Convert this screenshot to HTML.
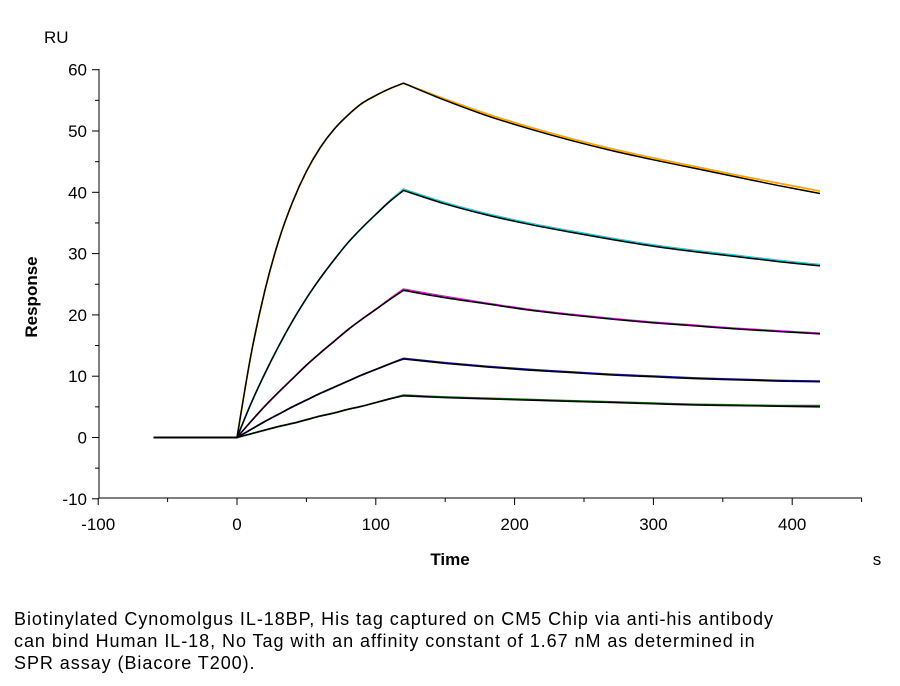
<!DOCTYPE html>
<html><head><meta charset="utf-8"><style>
body{margin:0;background:#fff;width:900px;height:686px;overflow:hidden;font-family:"Liberation Sans",sans-serif}
svg{position:absolute;left:0;top:0}
.cap{position:absolute;left:14px;top:608px;font-size:18px;letter-spacing:0.95px;line-height:22px;color:#000}
</style></head><body>
<svg id="chart" width="900" height="600"></svg>
<div class="cap">Biotinylated Cynomolgus IL-18BP, His tag captured on CM5 Chip via anti-his antibody<br>can bind Human IL-18, No Tag with an affinity constant of 1.67 nM as determined in<br>SPR assay (Biacore T200).</div>
<script>
const times=[0,10,20,30,40,50,60,70,80,90,100,110,120,150,180,210,240,270,300,330,360,390,420];
const fitTop=[0,13.4,23.9,32.1,38.4,43.4,47.3,50.3,52.6,54.5,55.8,56.9,57.8,55,52.5,50.4,48.5,46.8,45.3,43.9,42.5,41.1,39.8];
const dataTop=[0,13.4,23.9,32.1,38.4,43.4,47.3,50.3,52.6,54.5,55.8,56.9,57.8,55.2,52.8,50.7,48.8,47.1,45.6,44.2,42.8,41.5,40.2];
const fitC=[0,5.5,10.4,14.9,19.0,22.7,26.0,29.0,31.8,34.2,36.4,38.5,40.3,38.1,36.3,34.8,33.5,32.3,31.2,30.3,29.5,28.7,28.0];
const dataC=[0,5.5,10.4,14.9,19.0,22.7,26.0,29.0,31.8,34.2,36.4,38.6,40.5,38.3,36.5,35.0,33.7,32.5,31.4,30.5,29.7,28.9,28.2];
const fitM=[0,2.6,5.1,7.4,9.6,11.8,13.8,15.7,17.6,19.3,20.9,22.5,24,22.8,21.8,20.8,20,19.3,18.7,18.2,17.7,17.3,16.9];
const dataM=[0,2.6,5.1,7.4,9.6,11.8,13.8,15.7,17.6,19.3,20.9,22.6,24.2,23.0,21.9,20.9,20.1,19.4,18.8,18.3,17.8,17.4,17.0];
const fitB=[0,1.3,2.6,3.8,5.0,6.1,7.2,8.2,9.2,10.2,11.1,12.0,12.8,12.1,11.5,11,10.6,10.2,9.9,9.6,9.4,9.2,9.1];
const dataB=[0,1.3,2.6,3.8,5.0,6.1,7.2,8.2,9.2,10.2,11.1,12.0,12.9,12.2,11.6,11.1,10.7,10.3,10.0,9.7,9.5,9.3,9.2];
const fitG=[0,0.6,1.2,1.8,2.3,2.9,3.5,4.0,4.6,5.1,5.7,6.3,6.8,6.5,6.3,6.1,5.9,5.7,5.5,5.3,5.2,5.1,5.0];
const dataG=[0,0.6,1.2,1.8,2.3,2.9,3.5,4.0,4.6,5.1,5.7,6.3,6.9,6.6,6.4,6.2,6.0,5.8,5.6,5.4,5.3,5.2,5.2];
const xTicks=[-100,0,100,200,300,400];
const yTicks=[-10,0,10,20,30,40,50,60];
const NS="http://www.w3.org/2000/svg";
const svg=document.getElementById('chart');
const X=t=>237+(t)*1.388;
const Y=v=>437.5-v*6.13;
function mk(tag,attrs,parent){const e=document.createElementNS(NS,tag);for(const k in attrs)e.setAttribute(k,attrs[k]);(parent||svg).appendChild(e);return e;}
let e=mk('line',{x1:99,y1:69,x2:99,y2:498,stroke:'#000','stroke-width':1});


e=mk('line',{x1:99,y1:498,x2:862,y2:498,stroke:'#000','stroke-width':1});


for(let v=-10;v<=60;v+=5){const maj=v%10===0;mk('line',{x1:maj?92:95,x2:99,y1:Y(v),y2:Y(v),stroke:'#000'});}
for(let t=-100;t<=450;t+=50){const maj=t%100===0;mk('line',{x1:X(t),x2:X(t),y1:498,y2:maj?505:502,stroke:'#000'});}
yTicks.forEach(v=>{const t=mk('text',{x:87,y:Y(v)+6,'text-anchor':'end','font-size':17});t.textContent=v;

});
xTicks.forEach(v=>{const t=mk('text',{x:X(v),y:530,'text-anchor':'middle','font-size':17});t.textContent=v;

});
function txt(s,a,name){const t=mk('text',a);t.textContent=s;return t;}
txt('RU',{x:44,y:43,'font-size':17},'y-unit');
txt('Response',{x:0,y:0,'font-size':17,'font-weight':'bold','text-anchor':'middle',transform:'translate(37,297) rotate(-90)'},'y-axis-title');
txt('Time',{x:450,y:565,'font-size':17,'font-weight':'bold','text-anchor':'middle'},'x-axis-title');
txt('s',{x:877,y:565,'font-size':17,'text-anchor':'middle'},'x-unit');
const SPLIT=times.indexOf(120);
function path(vals){
  const p=times.map((t,i)=>[X(t),Y(vals[i])]);
  let d=`M${X(-60)},${Y(0)}L${p[0][0]},${p[0][1]}`;
  const seg=(a,b)=>{for(let i=a;i<b;i++){const p0=p[Math.max(a,i-1)],p1=p[i],p2=p[i+1],p3=p[Math.min(b,i+2)];
    d+=`C${p1[0]+(p2[0]-p0[0])/6},${p1[1]+(p2[1]-p0[1])/6} ${p2[0]-(p3[0]-p1[0])/6},${p2[1]-(p3[1]-p1[1])/6} ${p2[0]},${p2[1]}`;}};
  seg(0,SPLIT);seg(SPLIT,p.length-1);return d;}
const series=[['orange',dataTop,fitTop],['#22c8d0',dataC,fitC],['#d020d0',dataM,fitM],['#1a1aa0',dataB,fitB],['#107010',dataG,fitG]];
series.forEach(([c,d,f],i)=>{
  const a=mk('path',{d:path(d),fill:'none',stroke:c,'stroke-width':1.8});
  
  
});
series.forEach(([c,d,f],i)=>{
  const a=mk('path',{d:path(f),fill:'none',stroke:'#000','stroke-width':1.5});
  
  
});
</script>
</body></html>
